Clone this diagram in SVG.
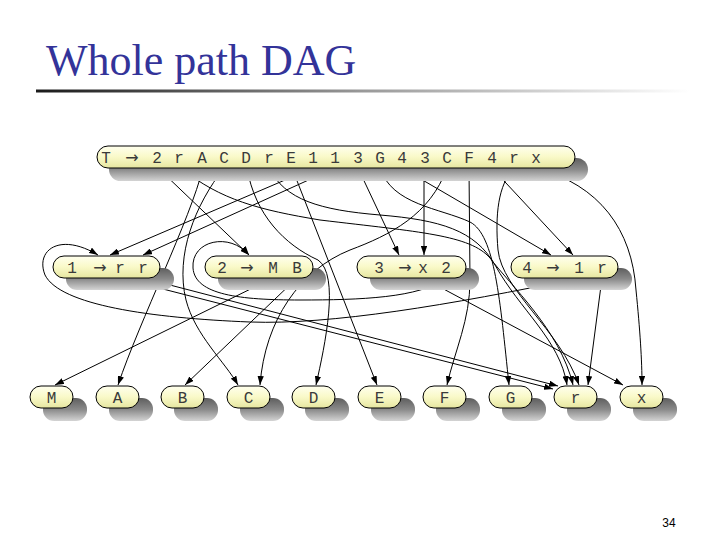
<svg xmlns="http://www.w3.org/2000/svg" width="720" height="540" viewBox="0 0 720 540">
<defs>
<linearGradient id="rule" x1="0" y1="0" x2="1" y2="0"><stop offset="0" stop-color="#1a1a1a"/><stop offset="0.5" stop-color="#999"/><stop offset="1" stop-color="#fff"/></linearGradient>
<linearGradient id="fill" x1="0" y1="0" x2="0" y2="1"><stop offset="0" stop-color="#ffffee"/><stop offset="0.5" stop-color="#f9f9c8"/><stop offset="1" stop-color="#e6e6a0"/></linearGradient>
<linearGradient id="shade" x1="0" y1="0" x2="0" y2="1"><stop offset="0" stop-color="#5e5e5e"/><stop offset="0.5" stop-color="#8a8a8a"/><stop offset="1" stop-color="#d4d4d4"/></linearGradient>
<marker id="ah" viewBox="0 0 10 7" refX="10" refY="3.5" markerWidth="9" markerHeight="6.3" markerUnits="userSpaceOnUse" orient="auto"><path d="M0,0 L10,3.5 L0,7 z" fill="#000"/></marker>
</defs>
<style>
.sh{fill:url(#shade)}
.nd{fill:url(#fill);stroke:#000;stroke-width:1}
.lb{font-family:"Liberation Mono","DejaVu Sans Mono",monospace;font-size:16px;fill:#3a3a3a;text-anchor:middle}
.ar{font-family:"DejaVu Sans","Liberation Sans",sans-serif;font-size:16px}
.e{fill:none;stroke:#000;stroke-width:1;marker-end:url(#ah)}
</style>
<rect width="720" height="540" fill="#fff"/>
<text x="46" y="75" font-family="Liberation Serif, Times New Roman, serif" font-size="44" fill="#333399">Whole path DAG</text>
<rect x="36" y="89.5" width="654" height="3" fill="url(#rule)"/>

<g id="edges">
<path class="e" d="M158,168 L249,255"/>
<path class="e" d="M181,168 C220,200 260,210 320,220 C420,232 470,235 490,258 C510,285 560,330 573,385"/>
<path class="e" d="M203,168 C190,220 140,320 118,385"/>
<path class="e" d="M224,168 C195,205 175,255 186,300 C195,335 225,362 238,385"/>
<path class="e" d="M247,168 C255,215 285,245 318,260 C340,275 325,345 316,385"/>
<path class="e" d="M269,168 C285,200 320,210 380,215 C440,220 475,230 495,265 C520,310 560,340 567,385"/>
<path class="e" d="M292,168 L377,385"/>
<path class="e" d="M313,168 L110,255"/>
<path class="e" d="M335,168 L143,255"/>
<path class="e" d="M358,168 L399,255"/>
<path class="e" d="M380,168 C392,205 440,208 470,222 C495,235 500,300 509,385"/>
<path class="e" d="M402,168 L551,255"/>
<path class="e" d="M424,168 L424,255"/>
<path class="e" d="M447,168 C430,215 390,235 350,250 C300,270 265,320 260,385"/>
<path class="e" d="M469,168 L470,280 C470,320 455,350 447,385"/>
<path class="e" d="M492,168 L573,255"/>
<path class="e" d="M514,168 C498,185 495,215 498,250 C502,290 560,330 579,385"/>
<path class="e" d="M536,168 C600,185 632,230 636,290 C640,330 642,360 642,385"/>
<path class="e" d="M120,278 L553,389"/>
<path class="e" d="M143,278 L558,386"/>
<path class="e" d="M273,278 L55,385"/>
<path class="e" d="M297,278 L185,385"/>
<path class="e" d="M423,278 L623,385"/>
<path class="e" d="M446,278 C420,298 360,300 300,300 C240,300 195,295 193,268 C191,240 230,232 249,255"/>
<path class="e" d="M579,278 C450,305 330,325 250,322 C150,318 60,305 45,275 C35,250 60,232 98,255"/>
<path class="e" d="M602,278 L588,385"/>
</g>

<g id="nT"><rect class="sh" x="109" y="158" width="479" height="23" rx="11.5"/><rect class="nd" x="97" y="146" width="478" height="22" rx="11"/>
<text class="lb" y="163"><tspan x="106 119">T </tspan><tspan class="ar" x="132">→</tspan><tspan x="145 157 168 179 190 202 213 224 235 246 257 269 280 291 302 313 324 335 346 358 369 380 391 402 413 425 436 447 458 469 480 492 503 514 525 536"> 2 r A C D r E 1 1 3 G 4 3 C F 4 r x</tspan></text></g>

<g id="n1"><rect class="sh" x="66" y="268" width="108" height="22" rx="11"/><rect class="nd" x="53" y="256" width="107" height="22" rx="11"/>
<text class="lb" y="273"><tspan x="72 86">1 </tspan><tspan class="ar" x="100">→</tspan><tspan x="111 120 131 143"> r r</tspan></text></g>
<g id="n2"><rect class="sh" x="218" y="268" width="108" height="22" rx="11"/><rect class="nd" x="205" y="256" width="108" height="22" rx="11"/>
<text class="lb" y="273"><tspan x="222 234">2 </tspan><tspan class="ar" x="247">→</tspan><tspan x="260 273 285 297"> M B</tspan></text></g>
<g id="n3"><rect class="sh" x="370" y="268" width="109" height="22" rx="11"/><rect class="nd" x="357" y="256" width="109" height="22" rx="11"/>
<text class="lb" y="273"><tspan x="379 392">3 </tspan><tspan class="ar" x="405">→</tspan><tspan x="423 434 446">x 2</tspan></text></g>
<g id="n4"><rect class="sh" x="524" y="268" width="108" height="22" rx="11"/><rect class="nd" x="511" y="256" width="107" height="22" rx="11"/>
<text class="lb" y="273"><tspan x="527 540">4 </tspan><tspan class="ar" x="553">→</tspan><tspan x="566 579 590 602"> 1 r</tspan></text></g>

<g id="nM"><rect class="sh" x="43" y="398" width="44" height="23" rx="11"/><rect class="nd" x="30" y="386" width="43" height="22" rx="11"/><text class="lb" x="51.5" y="403">M</text></g>
<g id="nA"><rect class="sh" x="109" y="398" width="44" height="23" rx="11"/><rect class="nd" x="96" y="386" width="43" height="22" rx="11"/><text class="lb" x="117.5" y="403">A</text></g>
<g id="nB"><rect class="sh" x="174" y="398" width="44" height="23" rx="11"/><rect class="nd" x="161" y="386" width="43" height="22" rx="11"/><text class="lb" x="182.5" y="403">B</text></g>
<g id="nC"><rect class="sh" x="240" y="398" width="44" height="23" rx="11"/><rect class="nd" x="227" y="386" width="43" height="22" rx="11"/><text class="lb" x="248.5" y="403">C</text></g>
<g id="nD"><rect class="sh" x="305" y="398" width="44" height="23" rx="11"/><rect class="nd" x="292" y="386" width="43" height="22" rx="11"/><text class="lb" x="313.5" y="403">D</text></g>
<g id="nE"><rect class="sh" x="371" y="398" width="44" height="23" rx="11"/><rect class="nd" x="358" y="386" width="43" height="22" rx="11"/><text class="lb" x="379.5" y="403">E</text></g>
<g id="nF"><rect class="sh" x="436" y="398" width="44" height="23" rx="11"/><rect class="nd" x="423" y="386" width="43" height="22" rx="11"/><text class="lb" x="444.5" y="403">F</text></g>
<g id="nG"><rect class="sh" x="502" y="398" width="44" height="23" rx="11"/><rect class="nd" x="489" y="386" width="43" height="22" rx="11"/><text class="lb" x="510.5" y="403">G</text></g>
<g id="nr"><rect class="sh" x="567" y="398" width="44" height="23" rx="11"/><rect class="nd" x="554" y="386" width="43" height="22" rx="11"/><text class="lb" x="575.5" y="403">r</text></g>
<g id="nx"><rect class="sh" x="633" y="398" width="44" height="23" rx="11"/><rect class="nd" x="620" y="386" width="43" height="22" rx="11"/><text class="lb" x="641.5" y="403">x</text></g>

<text x="669" y="527" font-family="Liberation Sans, Arial, sans-serif" font-size="12" fill="#000" text-anchor="middle">34</text>
</svg>
